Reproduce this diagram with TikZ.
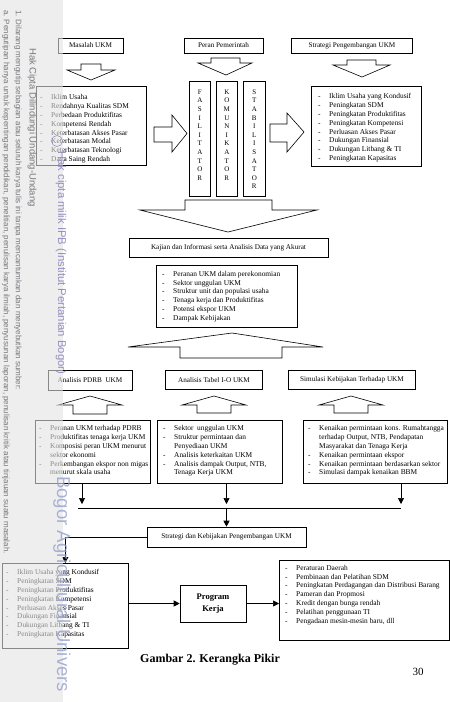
\documentclass[tikz,border=0pt]{standalone}
\usepackage{fontspec}
\setmainfont{Liberation Serif}
\newfontfamily\wmfont{Liberation Sans}
\usetikzlibrary{arrows.meta}
\definecolor{wmgray}{RGB}{120,120,125}
\definecolor{wmpurple}{RGB}{135,125,185}
\definecolor{wmblue}{RGB}{150,160,205}
\newcommand\li[1]{\makebox[11pt][l]{-}#1}
\newcommand\lc[1]{\hspace{11pt}#1}
\newcommand\chev[8]{\draw[blk] (#1,#3) -- (#2,#3) -- (#2,#6) -- (#5,#6) -- (#7,#8) -- (#4,#6) -- (#1,#6) -- cycle;}
\newcommand\rchev[8]{\draw[blk] (#1,#3) -- (#2,#3) -- (#2,#5) -- (#7,#8) -- (#2,#6) -- (#2,#4) -- (#1,#4) -- cycle;}
\tikzset{
  box/.style={draw=black, line width=0.6pt, inner sep=0pt, font=\fontsize{7.2}{8.6}\selectfont},
  frame/.style={draw=black, line width=0.6pt, inner sep=0pt, anchor=north west},
  listtxt/.style={inner sep=0pt, align=left, anchor=north west, font=\fontsize{7.4}{8.8}\selectfont},
  lettxt/.style={inner sep=0pt, align=center, anchor=north, font=\fontsize{7}{8.6}\selectfont},
  blk/.style={draw=black, line width=0.6pt, fill=white, line join=miter},
  conn/.style={draw=black, line width=0.7pt, -{Triangle[length=6pt,width=6pt]}},
  plain/.style={draw=black, line width=0.7pt},
  wm/.style={inner sep=0pt, rotate=-90, anchor=west, font=\wmfont\fontsize{8}{9}\selectfont, text=wmgray},
}
\begin{document}
\begin{tikzpicture}[x=1pt,y=-1pt]
\useasboundingbox (0,0) rectangle (450,702);
\fill[white] (0,0) rectangle (450,702);

% ---- top row ----
\node[box, minimum width=65pt, minimum height=15pt] (masalah) at (90.5,45.5) {Masalah UKM};
\node[box, minimum width=79pt, minimum height=15pt] (peran) at (223.5,45.5) {Peran Pemerintah};
\node[box, minimum width=121pt, minimum height=15pt] (strat) at (352,45.5) {Strategi Pengembangan UKM};

\chev{81}{101}{64}{67}{115}{70}{91}{80}
\chev{211}{240}{58}{198}{252}{63}{226}{75}
\chev{347}{376}{60}{333}{390}{65}{362}{77}

% left list
\node[frame, minimum width=110pt, minimum height=79pt] (lm) at (36,86) {};
\node[listtxt] (lmt) at (40,94.5) {\li{Iklim Usaha}\\ \li{Rendahnya Kualitas SDM}\\ \li{Perbedaan Produktifitas}\\ \li{Kompetensi Rendah}\\ \li{Keterbatasan Akses Pasar}\\ \li{Keterbatasan Modal}\\ \li{Keterbatasan Teknologi}\\ \li{Daya Saing Rendah}};

% vertical boxes
\node[frame, minimum width=21pt, minimum height=115pt] (fas) at (189,81) {};
\node[frame, minimum width=21pt, minimum height=115pt] (kom) at (216,81) {};
\node[frame, minimum width=22pt, minimum height=115pt] (sta) at (243,81) {};
\node[lettxt] (fast) at (fas.north |- 0,89.5) {F\\A\\S\\I\\L\\I\\T\\A\\T\\O\\R};
\node[lettxt] (komt) at (kom.north |- 0,89.5) {K\\O\\M\\U\\N\\I\\K\\A\\T\\O\\R};
\node[lettxt] (stat) at (sta.north |- 0,89.5) {S\\T\\A\\B\\I\\L\\I\\S\\A\\T\\O\\R};

% right list
\node[frame, minimum width=110pt, minimum height=80pt] (rm) at (311,86) {};
\node[listtxt] (rmt) at (318,93.5) {\li{Iklim Usaha yang Kondusif}\\ \li{Peningkatan SDM}\\ \li{Peningkatan Produktifitas}\\ \li{Peningkatan Kompetensi}\\ \li{Perluasan Akses Pasar}\\ \li{Dukungan Finansial}\\ \li{Dukungan Litbang \& TI}\\ \li{Peningkatan Kapasitas}};

% side arrows
\rchev{154}{172}{127}{142}{115}{152}{187}{133.5}
\rchev{270}{287}{124}{142}{113}{152}{304}{132}

% big down arrow
\chev{185}{272}{200}{140}{317}{210}{228}{232}

% ---- middle ----
\node[box, minimum width=199pt, minimum height=19pt] (kajian) at (228.5,248) {Kajian dan Informasi serta Analisis Data yang Akurat};
\node[frame, minimum width=141pt, minimum height=62pt] (dl) at (156,265) {};
\node[listtxt] (dlt) at (162,271) {\li{Peranan UKM dalam perekonomian}\\ \li{Sektor unggulan UKM}\\ \li{Struktur unit dan populasi usaha}\\ \li{Tenaga kerja dan Produktifitas}\\ \li{Potensi ekspor UKM}\\ \li{Dampak Kebijakan}};

% big up arrow
\chev{180}{282}{358}{128}{323}{347}{232}{333}

% analysis boxes
\node[box, minimum width=84pt, minimum height=20pt] (pdrb) at (90,380) {Analisis PDRB\ \ UKM};
\node[box, minimum width=97pt, minimum height=19pt] (tabel) at (214,380) {Analisis Tabel I-O UKM};
\node[box, minimum width=127pt, minimum height=19pt] (simul) at (352,380) {Simulasi Kebijakan Terhadap UKM};

% small up arrows
\chev{73}{107}{414}{58}{122}{405}{90}{396}
\chev{197}{231}{413}{182}{246}{405}{214}{396}
\chev{334}{368}{413}{319}{383}{405}{351}{396}

% bottom lists
\node[frame, minimum width=115pt, minimum height=63pt] (bl1) at (35,420) {};
\node[listtxt] (bl1t) at (39,425.5) {\li{Peranan UKM terhadap PDRB}\\ \li{Produktifitas tenaga kerja UKM}\\ \li{Komposisi peran UKM menurut}\\ \lc{sektor ekonomi}\\ \li{Perkembangan ekspor non migas}\\ \lc{menurut skala usaha}};
\node[frame, minimum width=125pt, minimum height=63pt] (bl2) at (157,420) {};
\node[listtxt] (bl2t) at (163,425.5) {\li{Sektor\ \ unggulan UKM}\\ \li{Struktur permintaan dan}\\ \lc{Penyediaan UKM}\\ \li{Analisis keterkaitan UKM}\\ \li{Analisis dampak Output, NTB,}\\ \lc{Tenaga Kerja UKM}};
\node[frame, minimum width=144pt, minimum height=63pt] (bl3) at (303,420) {};
\node[listtxt] (bl3t) at (308,425.5) {\li{Kenaikan permintaan kons. Rumahtangga}\\ \lc{terhadap Output, NTB, Pendapatan}\\ \lc{Masyarakat dan Tenaga Kerja}\\ \li{Kenaikan permintaan ekspor}\\ \li{Kenaikan permintaan berdasarkan sektor}\\ \li{Simulasi dampak kenaikan BBM}};

% collector
\coordinate (ja) at (82,508);
\coordinate (jb) at (226.5,508);
\coordinate (jc) at (401,508);
\coordinate (jl) at (78,508);
\draw[conn, shorten >=4pt] (bl1.south -| ja) -- (ja);
\draw[conn, shorten >=4pt] (bl2.south -| jb) -- (jb);
\draw[conn, shorten >=4pt] (bl3.south -| jc) -- (jc);
\draw[plain] (jl) -- (jc);

\node[box, minimum width=159pt, minimum height=20pt] (skb) at (226.5,537) {Strategi dan Kebijakan Pengembangan UKM};
\draw[conn] (jb) -- (skb.north);

% bottom row
\node[frame, minimum width=126pt, minimum height=85pt] (bll) at (2,563) {};
\node[listtxt] (bllt) at (6,569.5) {\li{Iklim Usaha yang Kondusif}\\ \li{Peningkatan SDM}\\ \li{Peningkatan Produktifitas}\\ \li{Peningkatan Kompetensi}\\ \li{Perluasan Akses Pasar}\\ \li{Dukungan Finansial}\\ \li{Dukungan Litbang \& TI}\\ \li{Peningkatan Kapasitas}};
\draw[conn] (skb.west) -| (bll.north);

\node[box, minimum width=66pt, minimum height=37pt, align=center, font=\bfseries\fontsize{8.6}{12}\selectfont] (prog) at (213,603.5) {Program\\Kerja};
\node[frame, minimum width=170pt, minimum height=80pt] (blr) at (279,560) {};
\node[listtxt] (blrt) at (285,565) {\li{Peraturan Daerah}\\ \li{Pembinaan dan Pelatihan SDM}\\ \li{Peningkatan Perdagangan dan Distribusi Barang}\\ \li{Pameran dan Propmosi}\\ \li{Kredit dengan bunga rendah}\\ \li{Pelatihan penggunaan TI}\\ \li{Pengadaan mesin-mesin baru, dll}};
\draw[conn] (bll.east |- prog) -- (prog.west);
\draw[conn] (prog.east) -- (blr.west |- prog);

\node[font=\bfseries\fontsize{12}{14}\selectfont, inner sep=0pt] (cap) at (210,660) {Gambar 2. Kerangka Pikir};
\node[font=\fontsize{11}{13}\selectfont, inner sep=0pt] (pg) at (418,672) {30};

% ---- watermark overlay ----
\fill[gray!22, opacity=0.6] (0,0) rectangle (63,702);
\node[wm, font=\wmfont\fontsize{9.5}{11}\selectfont] (wm1) at (32,48) {Hak Cipta Dilindungi Undang-Undang};
\node[wm] (wm2) at (18,10) {1. Dilarang mengutip sebagian atau seluruh karya tulis ini tanpa mencantumkan dan menyebutkan sumber:};
\node[wm] (wm3) at (6,10) {a. Pengutipan hanya untuk kepentingan pendidikan, penelitian, penulisan karya ilmiah, penyusunan laporan, penulisan kritik atau tinjauan suatu masalah.};
\node[draw=wmpurple, circle, line width=0.6pt, minimum size=11pt, inner sep=0pt, opacity=0.8] (logo) at (57,141) {};
\node[wm, text=wmpurple, font=\wmfont\fontsize{11.3}{13}\selectfont, opacity=0.85] (wm4) at (61,151) {Hak cipta milik IPB (Institut Pertanian Bogor)};
\node[wm, text=wmblue, font=\wmfont\fontsize{18.6}{22}\selectfont, opacity=0.8] (wm5) at (62,476) {Bogor Agricultural Univers};
\end{tikzpicture}
\end{document}
